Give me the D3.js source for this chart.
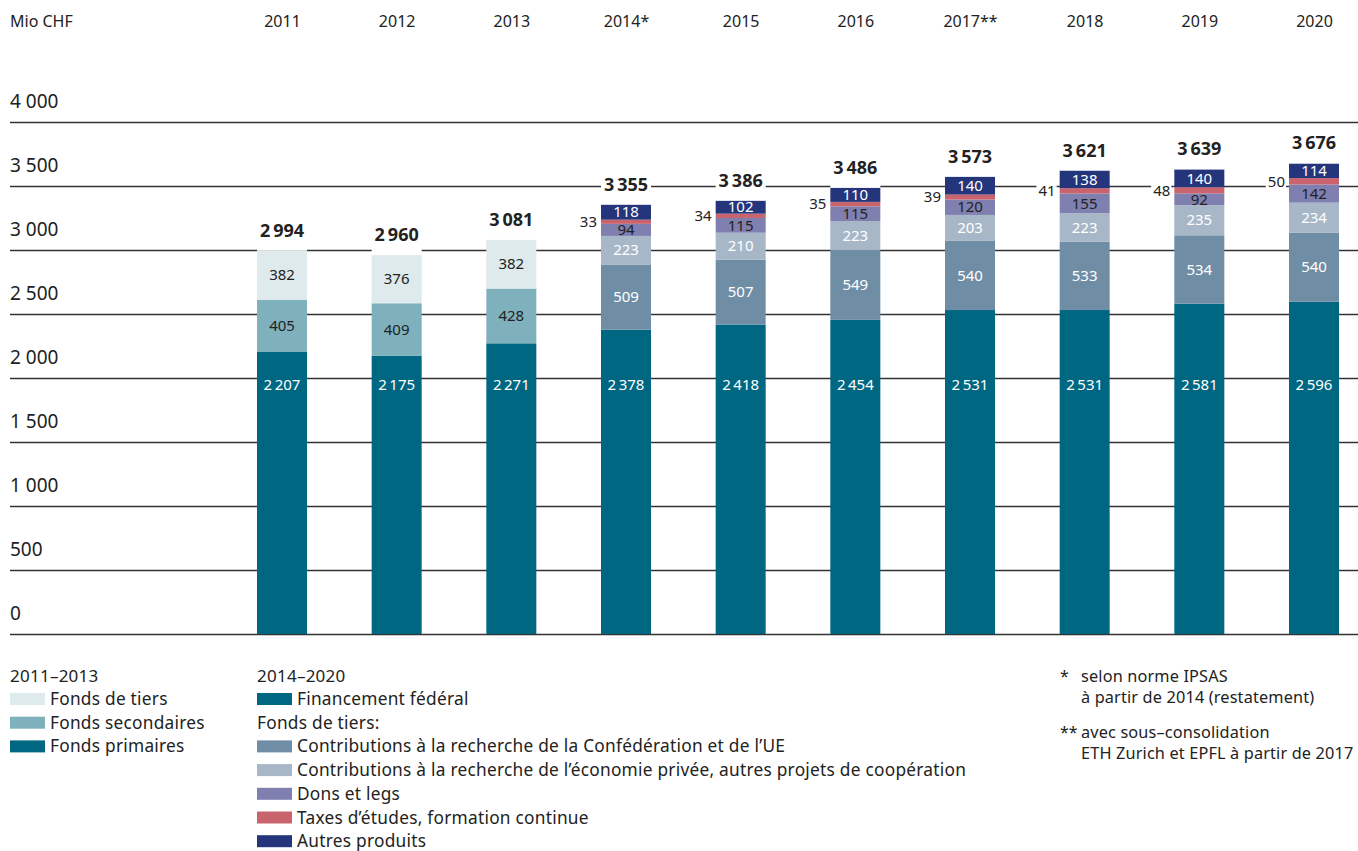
<!DOCTYPE html>
<html>
<head>
<meta charset="utf-8">
<script src="https://cdn.jsdelivr.net/npm/d3@7"></script>
<style>
  body { margin: 0; background: #fff; }
  svg text { font-family: "Noto Sans", "Open Sans", sans-serif; fill: #222; }
</style>
</head>
<body>
<div id="chart"></div>
<script>
var years = ["2011", "2012", "2013", "2014", "2015", "2016", "2017", "2018", "2019", "2020"];
var yearLabels = ["2011", "2012", "2013", "2014*", "2015", "2016", "2017**", "2018", "2019", "2020"];
var totals = [2994, 2960, 3081, 3355, 3386, 3486, 3573, 3621, 3639, 3676];

// 2011-2013
var fondsPrimaires = [2207, 2175, 2271, 0, 0, 0, 0, 0, 0, 0];
var fondsSecondaires = [405, 409, 428, 0, 0, 0, 0, 0, 0, 0];
var fondsTiers = [382, 376, 382, 0, 0, 0, 0, 0, 0, 0];
// 2014-2020
var federal = [0, 0, 0, 2378, 2418, 2454, 2531, 2531, 2581, 2596];
var confUE = [0, 0, 0, 509, 507, 549, 540, 533, 534, 540];
var economiePrivee = [0, 0, 0, 223, 210, 223, 203, 223, 235, 234];
var donsLegs = [0, 0, 0, 94, 115, 115, 120, 155, 92, 142];
var taxes = [0, 0, 0, 33, 34, 35, 39, 41, 48, 50];
var autres = [0, 0, 0, 118, 102, 110, 140, 138, 140, 114];

var yTicks = [0, 500, 1000, 1500, 2000, 2500, 3000, 3500, 4000];

var width = 1358, height = 851;

var keys = ["primaires", "secondaires", "tiers", "federal", "conf", "privee", "dons", "taxes", "autres"];
var colors = {
  primaires: "#006782", secondaires: "#7fb1bd", tiers: "#deeaec",
  federal: "#006782", conf: "#6f8ea6", privee: "#a8b7c7",
  dons: "#7f80b0", taxes: "#c9646f", autres: "#24357b"
};
var labelColor = {
  primaires: "#fff", secondaires: "#222", tiers: "#222",
  federal: "#fff", conf: "#fff", privee: "#fff", dons: "#222", autres: "#fff"
};

var rows = years.map(function(y, i) {
  return {year: y, primaires: fondsPrimaires[i], secondaires: fondsSecondaires[i], tiers: fondsTiers[i],
    federal: federal[i], conf: confUE[i], privee: economiePrivee[i], dons: donsLegs[i], taxes: taxes[i], autres: autres[i]};
});

var fmt = d3.formatLocale({decimal: ".", thousands: "\u2009", grouping: [3], currency: ["", ""]}).format(",d");
var fmtAxis = d3.formatLocale({decimal: ".", thousands: " ", grouping: [3], currency: ["", ""]}).format(",d");

var svg = d3.select('#chart').append('svg')
  .attr('width', width).attr('height', height);

var x = d3.scalePoint().domain(years).range([282, 1314]);
var y = d3.scaleLinear().domain([0, 4000]).range([634, 122]);
var barW = 50;

// gridlines + y labels
var yAxis = svg.append('g')
  .attr('transform', 'translate(10,0)')
  .call(d3.axisLeft(y).tickValues(yTicks).tickSize(-(width - 10)).tickFormat(fmtAxis));
yAxis.select('.domain').remove();
yAxis.selectAll('.tick line').attr('stroke', '#333').attr('stroke-width', 1.3);
yAxis.selectAll('.tick text')
  .attr('x', 0).attr('dy', -15).attr('text-anchor', 'start')
  .style('font-size', '19px');

// years on top
var xAxis = svg.append('g')
  .attr('transform', 'translate(0,27)')
  .call(d3.axisTop(x).tickSize(0).tickFormat(function(d, i) { return yearLabels[i]; }));
xAxis.select('.domain').remove();
xAxis.selectAll('.tick text').attr('y', 0).attr('dy', 0).style('font-size', '16px');

svg.append('text').attr('x', 10).attr('y', 27).style('font-size', '16px').text('Mio CHF');

// stacked bars
var stack = d3.stack().keys(keys)(rows);

var layers = svg.selectAll('.layer').data(stack).enter().append('g')
  .attr('class', 'layer')
  .attr('fill', function(d) { return colors[d.key]; });

layers.selectAll('rect').data(function(d) { return d.filter(function(p) { return p[1] > p[0]; }); })
  .enter().append('rect')
  .attr('x', function(d) { return x(d.data.year) - barW / 2; })
  .attr('y', function(d) { return y(d[1]); })
  .attr('width', barW)
  .attr('height', function(d) { return y(d[0]) - y(d[1]); });

// segment labels
stack.forEach(function(layer) {
  var key = layer.key;
  layer.forEach(function(d) {
    var v = d[1] - d[0];
    if (v <= 0) return;
    var cx = x(d.data.year);
    if (key === 'taxes') {
      var ty = y((d[0] + d[1]) / 2);
      var t = svg.append('text')
        .attr('x', cx - barW / 2 - 4).attr('y', ty).attr('dy', '0.35em')
        .attr('text-anchor', 'end').style('font-size', '15px')
        .text(fmt(v));
      var bb = t.node().getBBox();
      svg.insert('rect', function() { return t.node(); })
        .attr('x', bb.x - 2).attr('y', bb.y + 2).attr('width', bb.width + 3).attr('height', bb.height - 4)
        .attr('fill', '#fff');
      return;
    }
    var ly = (key === 'primaires' || key === 'federal') ? y(1950) : y((d[0] + d[1]) / 2);
    svg.append('text')
      .attr('x', cx).attr('y', ly).attr('dy', '0.35em')
      .attr('text-anchor', 'middle')
      .style('font-size', '15px')
      .style('fill', labelColor[key])
      .text(fmt(v));
  });
});

// totals
var tops = rows.map(function(r) { return d3.sum(keys, function(k) { return r[k]; }); });
var totalG = svg.selectAll('.total').data(years).enter().append('g').attr('class', 'total');
totalG.append('rect')
  .attr('x', function(d) { return x(d) - barW / 2; })
  .attr('y', function(d, i) { return y(tops[i]) - 32; })
  .attr('width', barW).attr('height', 32)
  .attr('fill', '#fff');
totalG.append('text')
  .attr('x', function(d) { return x(d); })
  .attr('y', function(d, i) { return y(tops[i]) - 14; })
  .attr('text-anchor', 'middle')
  .style('font-size', '18px').style('font-weight', 'bold')
  .text(function(d, i) { return fmt(totals[i]); });

// legend
var legendOld = [
  {key: 'tiers', label: 'Fonds de tiers'},
  {key: 'secondaires', label: 'Fonds secondaires'},
  {key: 'primaires', label: 'Fonds primaires'}
];
var legendNew = [
  {key: 'federal', label: 'Financement fédéral'},
  {key: null, label: 'Fonds de tiers:'},
  {key: 'conf', label: 'Contributions à la recherche de la Confédération et de l\u2019UE'},
  {key: 'privee', label: 'Contributions à la recherche de l\u2019économie privée, autres projets de coopération'},
  {key: 'dons', label: 'Dons et legs'},
  {key: 'taxes', label: 'Taxes d\u2019études, formation continue'},
  {key: 'autres', label: 'Autres produits'}
];

function drawLegend(x0, title, items) {
  var g = svg.append('g').attr('transform', 'translate(' + x0 + ',0)')
    .style('letter-spacing', '0.25px');
  g.append('text').attr('x', 0).attr('y', 682).style('font-size', '17px').text(title);
  items.forEach(function(it, i) {
    var by = 705 + i * 23.7;
    if (it.key) {
      g.append('rect').attr('x', 0).attr('y', by - 12).attr('width', 35).attr('height', 12).attr('fill', colors[it.key]);
      g.append('text').attr('x', 40).attr('y', by).style('font-size', '17.3px').text(it.label);
    } else {
      g.append('text').attr('x', 0).attr('y', by).style('font-size', '17.3px').text(it.label);
    }
  });
}
drawLegend(10, '2011\u20132013', legendOld);
drawLegend(257, '2014\u20132020', legendNew);

// footnotes
var notes = [
  {mark: '*', lines: ['selon norme IPSAS', 'à partir de 2014 (restatement)'], y: 682},
  {mark: '**', lines: ['avec sous\u2013consolidation', 'ETH Zurich et EPFL à partir de 2017'], y: 738}
];
notes.forEach(function(n) {
  svg.append('text').attr('x', 1060).attr('y', n.y).style('font-size', '16px').text(n.mark);
  n.lines.forEach(function(l, i) {
    svg.append('text').attr('x', 1081).attr('y', n.y + i * 21)
      .style('font-size', '16.3px').style('letter-spacing', '0.15px').text(l);
  });
});
</script>
</body>
</html>
